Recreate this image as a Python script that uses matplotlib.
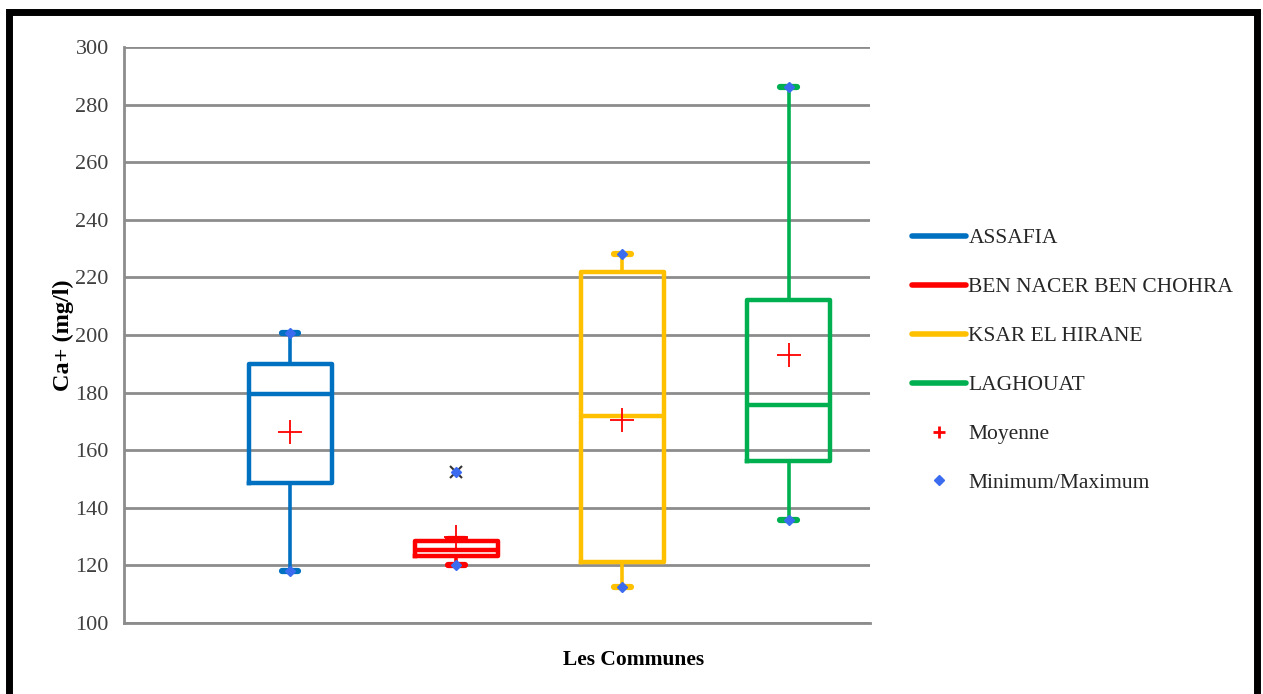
import matplotlib.pyplot as plt
from matplotlib.lines import Line2D
from matplotlib.patches import Rectangle

communes = ['ASSAFIA', 'BEN NACER BEN CHOHRA', 'KSAR EL HIRANE', 'LAGHOUAT']
colors = ['#0070C0', '#FF0000', '#FFC000', '#00B050']
minimum = [118, 120, 112.5, 135.8]
q1 = [148.6, 123.3, 121.2, 156.3]
median = [179.5, 125.5, 172, 175.7]
q3 = [190, 128.4, 221.9, 212]
whisker_high = [200.7, 129, 228.1, 286]
maximum = [200.7, 152.4, 228.1, 286]
mean = [166.3, 130, 170.5, 193.2]
outliers = [[], [152.4], [], []]


def main():
    plt.rcParams['font.family'] = ['Liberation Serif', 'DejaVu Serif']
    fig = plt.figure(figsize=(12.63, 6.94), dpi=100)
    ax = fig.add_axes([124 / 1263, 1 - 623 / 694, 746 / 1263, 576 / 694])

    positions = list(range(1, len(communes) + 1))
    for i, pos in enumerate(positions):
        stats = [{'whislo': minimum[i], 'q1': q1[i], 'med': median[i], 'q3': q3[i],
                  'whishi': whisker_high[i], 'fliers': outliers[i], 'mean': mean[i]}]
        c = colors[i]
        ax.bxp(stats, positions=[pos], widths=0.5, showmeans=False, showfliers=True,
               boxprops=dict(color=c, linewidth=3.2),
               medianprops=dict(color=c, linewidth=3.2),
               whiskerprops=dict(color=c, linewidth=2.6),
               capprops=dict(color=c, linewidth=4.5, solid_capstyle='round'),
               capwidths=0.1,
               flierprops=dict(marker='x', markeredgecolor='#333333', markersize=8,
                               markeredgewidth=1.5),
               zorder=3)

    ax.plot(positions, mean, linestyle='none', marker='+', color='red',
            markersize=17, markeredgewidth=1.3, zorder=5)
    ax.plot(positions, minimum, linestyle='none', marker='D', color='#3B6CF0',
            markersize=5, zorder=6)
    ax.plot(positions, maximum, linestyle='none', marker='D', color='#3B6CF0',
            markersize=5, zorder=6)

    ax.set_xlim(0, 4.49)
    ax.set_ylim(100, 300)
    ax.set_yticks(range(100, 301, 20))
    ax.set_xticks([])
    ax.grid(axis='y', color='#8C8C8C', linewidth=2, zorder=0)
    ax.set_axisbelow(True)
    for side in ['top', 'right']:
        ax.spines[side].set_visible(False)
    for side in ['left', 'bottom']:
        ax.spines[side].set_color('#8C8C8C')
        ax.spines[side].set_linewidth(2)
    ax.tick_params(axis='y', length=0, labelsize=16, pad=11, colors='#404040')
    ax.set_ylabel('Ca+ (mg/l)', fontsize=17.5, fontweight='bold')
    ax.yaxis.set_label_coords(-50 / 746, 0.5)
    ax.set_xlabel('Les Communes', fontsize=15.5, fontweight='bold')
    ax.xaxis.set_label_coords(510 / 746, -27 / 576)

    handles = [Line2D([], [], color=c, linewidth=4, solid_capstyle='round') for c in colors]
    handles.append(Line2D([], [], linestyle='none', marker='+', color='red',
                          markersize=9, markeredgewidth=2))
    handles.append(Line2D([], [], linestyle='none', marker='D', color='#3B6CF0',
                          markersize=5))
    labels = communes + ['Moyenne', 'Minimum/Maximum']
    fig.legend(handles, labels, loc='upper left', bbox_to_anchor=(893 / 1263, 1 - 209 / 694),
               frameon=False, fontsize=15.5, handlelength=2.5, handletextpad=0.1,
               labelspacing=1.34, labelcolor='#262626')

    fig.patches.append(Rectangle((9 / 1263, -0.05), 1248 / 1263, 1.05 - 12 / 694,
                                 transform=fig.transFigure, fill=False,
                                 edgecolor='black', linewidth=5))
    fig.savefig('out.png', dpi=100)


if __name__ == '__main__':
    main()
